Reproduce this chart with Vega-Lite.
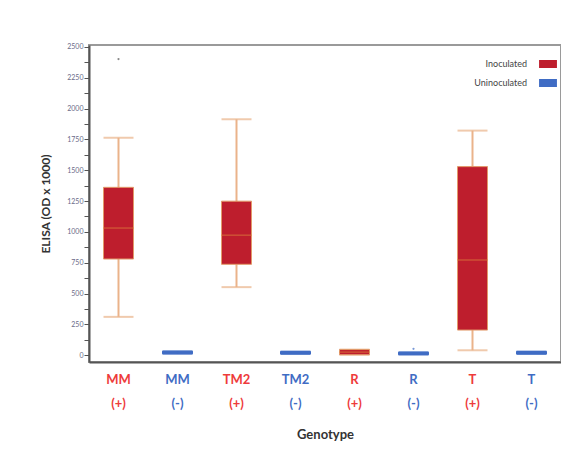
{
  "$schema": "https://vega.github.io/schema/vega-lite/v6.json",
  "autosize": {"type": "none"},
  "padding": {"left": 89, "top": 45, "right": 0, "bottom": 88},
  "width": 472,
  "height": 317,
  "background": "white",
  "config": {
    "view": {"stroke": "#9a9a9a", "strokeWidth": 2},
    "font": "Lato",
    "axisY": {"labelOverlap": false, "labelFontSize": 7, "labelColor": "#6a6a88", "labelPadding": 1, "tickColor": "#555555", "tickSize": 5, "domainColor": "#555555", "domainWidth": 2, "grid": false, "titleFont": "Lato", "titleFontSize": 12, "titleFontWeight": "bold", "titleColor": "#333333", "titlePadding": 14}
  },
  "datasets": {
    "boxes": [
      {"genotype": "MM (+)", "group": "Inoculated", "lower": 311, "q1": 780, "median": 1031, "q3": 1361, "upper": 1763},
      {"genotype": "MM (-)", "group": "Uninoculated", "lower": 12, "q1": 12, "median": 22, "q3": 32, "upper": 32},
      {"genotype": "TM2 (+)", "group": "Inoculated", "lower": 552, "q1": 737, "median": 973, "q3": 1249, "upper": 1913},
      {"genotype": "TM2 (-)", "group": "Uninoculated", "lower": 10, "q1": 10, "median": 20, "q3": 30, "upper": 30},
      {"genotype": "R (+)", "group": "Inoculated", "lower": 4, "q1": 4, "median": 25, "q3": 46, "upper": 46},
      {"genotype": "R (-)", "group": "Uninoculated", "lower": 5, "q1": 5, "median": 14, "q3": 24, "upper": 24},
      {"genotype": "T (+)", "group": "Inoculated", "lower": 40, "q1": 204, "median": 772, "q3": 1529, "upper": 1821},
      {"genotype": "T (-)", "group": "Uninoculated", "lower": 10, "q1": 10, "median": 20, "q3": 30, "upper": 30}
    ],
    "outliers": [
      {"genotype": "MM (+)", "group": "Inoculated", "value": 2401},
      {"genotype": "R (-)", "group": "Uninoculated", "value": 52}
    ]
  },
  "data": {"name": "boxes"},
  "encoding": {
    "x": {
      "field": "genotype",
      "type": "nominal",
      "sort": null,
      "scale": {"domain": ["MM (+)", "MM (-)", "TM2 (+)", "TM2 (-)", "R (+)", "R (-)", "T (+)", "T (-)"], "paddingInner": 0, "paddingOuter": 0},
      "axis": {
        "title": "Genotype",
        "titleFont": "Lato",
        "titleFontSize": 13,
        "titleFontWeight": "bold",
        "titleColor": "#333333",
        "titlePadding": 18,
        "labelAngle": 0,
        "labelFont": "Lato",
        "labelFontSize": 13,
        "labelFontWeight": "bold",
        "labelLineHeight": 24,
        "labelPadding": 11,
        "labelExpr": "split(datum.label, ' ')",
        "labelColor": {"condition": {"test": "indexof(datum.value, '+') >= 0", "value": "#ee3b3b"}, "value": "#3f6cc4"},
        "ticks": false,
        "domainColor": "#555555",
        "domainWidth": 2,
        "grid": false
      }
    }
  },
  "layer": [
    {
      "mark": {"type": "rule", "strokeWidth": 2},
      "encoding": {
        "y": {
          "field": "lower",
          "type": "quantitative",
          "scale": {"domain": [-55, 2515], "nice": false, "zero": false},
          "axis": {"title": "ELISA (OD x 1000)", "values": [0, 125, 250, 375, 500, 625, 750, 875, 1000, 1125, 1250, 1375, 1500, 1625, 1750, 1875, 2000, 2125, 2250, 2375, 2500], "labelExpr": "datum.value % 250 === 0 ? '' + datum.value : ''"}
        },
        "y2": {"field": "upper"},
        "color": {"condition": {"test": "datum.group === 'Inoculated'", "value": "#eab38a"}, "value": "#3f6cc4"}
      }
    },
    {
      "mark": {"type": "tick", "size": 30, "thickness": 2},
      "encoding": {
        "y": {"field": "lower", "type": "quantitative", "axis": {"title": "ELISA (OD x 1000)", "values": [0, 125, 250, 375, 500, 625, 750, 875, 1000, 1125, 1250, 1375, 1500, 1625, 1750, 1875, 2000, 2125, 2250, 2375, 2500], "labelExpr": "datum.value % 250 === 0 ? '' + datum.value : ''"}},
        "color": {"condition": {"test": "datum.group === 'Inoculated'", "value": "#eab38a"}, "value": "#3f6cc4"}
      }
    },
    {
      "mark": {"type": "tick", "size": 30, "thickness": 2},
      "encoding": {
        "y": {"field": "upper", "type": "quantitative", "axis": {"title": "ELISA (OD x 1000)", "values": [0, 125, 250, 375, 500, 625, 750, 875, 1000, 1125, 1250, 1375, 1500, 1625, 1750, 1875, 2000, 2125, 2250, 2375, 2500], "labelExpr": "datum.value % 250 === 0 ? '' + datum.value : ''"}},
        "color": {"condition": {"test": "datum.group === 'Inoculated'", "value": "#eab38a"}, "value": "#3f6cc4"}
      }
    },
    {
      "mark": {"type": "bar", "width": 30, "strokeWidth": 1},
      "encoding": {
        "y": {"field": "q1", "type": "quantitative", "axis": {"title": "ELISA (OD x 1000)", "values": [0, 125, 250, 375, 500, 625, 750, 875, 1000, 1125, 1250, 1375, 1500, 1625, 1750, 1875, 2000, 2125, 2250, 2375, 2500], "labelExpr": "datum.value % 250 === 0 ? '' + datum.value : ''"}},
        "y2": {"field": "q3"},
        "color": {
          "field": "group",
          "type": "nominal",
          "scale": {"domain": ["Inoculated", "Uninoculated"], "range": ["#be1e2d", "#3f6cc4"]},
          "legend": {
            "title": null,
            "orient": "none",
            "legendX": 450,
            "legendY": 10,
            "symbolType": "M-1,-0.45H1V0.45H-1Z",
            "symbolSize": 320,
            "symbolStrokeWidth": 0,
            "labelAlign": "right",
            "labelOffset": -30,
            "labelFontSize": 9,
            "labelColor": "#444444",
            "rowPadding": 5
          }
        },
        "stroke": {"condition": {"test": "datum.group === 'Inoculated'", "value": "#e29a6a"}, "value": "#3f6cc4"}
      }
    },
    {
      "mark": {"type": "tick", "size": 30, "thickness": 1.5, "opacity": 0.6},
      "encoding": {
        "y": {"field": "median", "type": "quantitative", "axis": {"title": "ELISA (OD x 1000)", "values": [0, 125, 250, 375, 500, 625, 750, 875, 1000, 1125, 1250, 1375, 1500, 1625, 1750, 1875, 2000, 2125, 2250, 2375, 2500], "labelExpr": "datum.value % 250 === 0 ? '' + datum.value : ''"}},
        "color": {"condition": {"test": "datum.group === 'Inoculated'", "value": "#d9733a"}, "value": "#3f6cc4"}
      }
    },
    {
      "data": {"name": "outliers"},
      "mark": {"type": "point", "filled": true, "size": 5},
      "encoding": {
        "y": {"field": "value", "type": "quantitative", "axis": {"title": "ELISA (OD x 1000)", "values": [0, 125, 250, 375, 500, 625, 750, 875, 1000, 1125, 1250, 1375, 1500, 1625, 1750, 1875, 2000, 2125, 2250, 2375, 2500], "labelExpr": "datum.value % 250 === 0 ? '' + datum.value : ''"}},
        "color": {"condition": {"test": "datum.group === 'Inoculated'", "value": "#555555"}, "value": "#3f6cc4"}
      }
    }
  ]
}
